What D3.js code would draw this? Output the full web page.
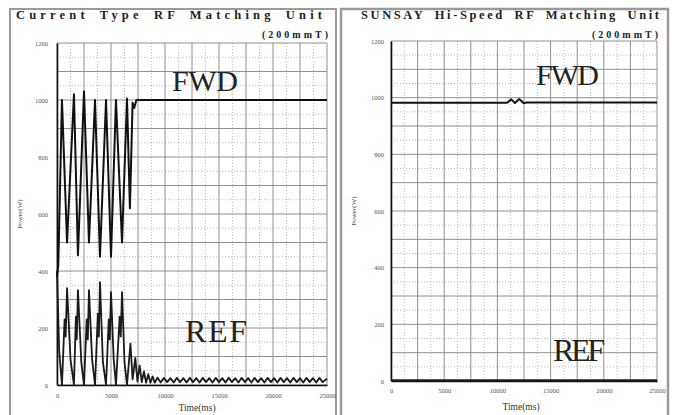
<!DOCTYPE html>
<html>
<head>
<meta charset="utf-8">
<script src="https://cdn.jsdelivr.net/npm/d3@7"></script>
<style>
  body { margin: 0; background: #fff; }
  svg { display: block; font-family: "Liberation Serif", "DejaVu Serif", serif; }
</style>
</head>
<body>
<div></div>
<script>
// ticks shared by both panels
const xTicks = [0, 5000, 10000, 15000, 20000, 25000];
const yTicks = [0, 200, 400, 600, 800, 1000, 1200];

// left panel: current type matching unit  [time ms, power W]
const fwdLeft = [
  [0, 380], [120, 420], [460, 1000], [930, 500], [1570, 1020], [1940, 455],
  [2500, 1030], [2960, 500], [3520, 1000], [3980, 450], [4540, 1000], [5000, 450],
  [5460, 1000], [6020, 500], [6480, 1005], [6750, 620], [7000, 990], [7150, 972],
  [7350, 1000], [25000, 1000]
];
const refLeft = [
  [0, 400], [200, 120], [460, 0], [700, 230], [800, 170], [930, 340], [1250, 90],
  [1570, 0], [1750, 240], [1830, 160], [1940, 333], [2250, 80], [2500, 0],
  [2750, 230], [2850, 160], [2960, 333], [3250, 90], [3520, 0], [3780, 250],
  [3870, 170], [3980, 361], [4250, 80], [4540, 0], [4790, 230], [4890, 160],
  [5000, 326], [5250, 90], [5460, 0], [5800, 240], [5900, 170], [6020, 326],
  [6250, 80], [6480, 0], [6800, 145], [7000, 20], [7250, 95], [7450, 12],
  [7650, 68], [7850, 10], [8050, 48], [8250, 8], [8450, 38], [8650, 8],
  [8850, 30], [9050, 8], [9300, 26], [9600, 9], [9900, 25], [10200, 10],
  [10500, 24], [10800, 9], [11100, 25], [11400, 10], [11700, 24], [12000, 9],
  [12300, 25], [12600, 10], [12900, 24], [13200, 9], [13500, 25], [13800, 10],
  [14100, 24], [14400, 9], [14700, 25], [15000, 10], [15300, 24], [15600, 9],
  [15900, 25], [16200, 10], [16500, 24], [16800, 9], [17100, 25], [17400, 10],
  [17700, 24], [18000, 9], [18300, 25], [18600, 10], [18900, 24], [19200, 9],
  [19500, 25], [19800, 10], [20100, 24], [20400, 9], [20700, 25], [21000, 10],
  [21300, 24], [21600, 9], [21900, 25], [22200, 10], [22500, 24], [22800, 9],
  [23100, 25], [23400, 10], [23700, 24], [24000, 9], [24300, 25], [24600, 10],
  [25000, 22]
];

// right panel: hi-speed matching unit
const fwdRight = [
  [0, 982], [10900, 982], [11300, 994], [11650, 981], [12050, 995],
  [12450, 981], [12800, 983], [25000, 983]
];
const refRight = [[0, 3], [25000, 3]];

const svg = d3.select("div").append("svg").attr("width", 676).attr("height", 415);

// outer frames
svg.append("rect").attr("x", 10).attr("y", 9).attr("width", 326).attr("height", 420)
  .attr("fill", "none").attr("stroke", "#9a9a9a").attr("stroke-width", 2);
svg.append("rect").attr("x", 341).attr("y", 9).attr("width", 327).attr("height", 420)
  .attr("fill", "none").attr("stroke", "#9a9a9a").attr("stroke-width", 2.5);

function drawPanel(p) {
  const x = d3.scaleLinear().domain([0, 25000]).range([p.left, p.right]);
  const y = d3.scaleLinear().domain([0, 1200]).range([p.bottom, p.top]);
  const g = svg.append("g");

  // minor dotted grid
  g.append("g").selectAll("line").data(d3.range(1250, 25000, 2500)).join("line")
    .attr("x1", d => x(d)).attr("x2", d => x(d)).attr("y1", p.top).attr("y2", p.bottom)
    .attr("stroke", "#aaa").attr("stroke-width", 0.8).attr("stroke-dasharray", "1,2");
  g.append("g").selectAll("line").data(d3.range(50, 1200, 100)).join("line")
    .attr("y1", d => y(d)).attr("y2", d => y(d)).attr("x1", p.left).attr("x2", p.right)
    .attr("stroke", "#aaa").attr("stroke-width", 0.8).attr("stroke-dasharray", "1,2");

  // major grid
  g.append("g").selectAll("line").data(d3.range(0, 25001, 2500)).join("line")
    .attr("x1", d => x(d)).attr("x2", d => x(d)).attr("y1", p.top).attr("y2", p.bottom)
    .attr("stroke", "#858585").attr("stroke-width", 0.9);
  g.append("g").selectAll("line").data(d3.range(0, 1201, 100)).join("line")
    .attr("y1", d => y(d)).attr("y2", d => y(d)).attr("x1", p.left).attr("x2", p.right)
    .attr("stroke", "#858585").attr("stroke-width", 0.9);

  // axes
  const fmt = d3.format("d");
  const ax = g.append("g").attr("transform", "translate(0," + p.bottom + ")")
    .call(d3.axisBottom(x).tickValues(xTicks).tickFormat(fmt).tickSize(0).tickPadding(p.xPad).tickSizeOuter(0));
  const ay = g.append("g").attr("transform", "translate(" + p.left + ",0)")
    .call(d3.axisLeft(y).tickValues(yTicks).tickFormat(fmt).tickSize(0).tickPadding(p.yPad).tickSizeOuter(0));
  [ax, ay].forEach(a => {
    a.select(".domain").attr("stroke", "#111").attr("stroke-width", 1.6);
    a.selectAll("text").attr("font-size", 6.5).attr("fill", "#555")
      .attr("font-family", "Liberation Serif");
  });

  const line = d3.line().x(d => x(d[0])).y(d => y(d[1]));
  g.append("path").datum(p.ref).attr("d", line).attr("fill", "none")
    .attr("stroke", "#1a1a1a").attr("stroke-width", 1.8).attr("stroke-linejoin", "round");
  g.append("path").datum(p.fwd).attr("d", line).attr("fill", "none")
    .attr("stroke", "#111").attr("stroke-width", 2).attr("stroke-linejoin", "round");

  // titles
  g.append("text").text(p.title).attr("x", p.titleX).attr("y", 19)
    .attr("font-size", 12.5).attr("font-weight", "bold").attr("fill", "#222")
    .attr("textLength", p.titleLen).attr("lengthAdjust", "spacing")
    .attr("word-spacing", 4);
  g.append("text").text("(200mmT)").attr("x", p.right + 1).attr("y", 38)
    .attr("text-anchor", "end").attr("font-size", 10).attr("font-weight", "bold")
    .attr("fill", "#222").attr("textLength", 66).attr("lengthAdjust", "spacing");

  g.append("text").text("Power(W)")
    .attr("transform", "translate(" + p.yLabelX + "," + (p.top + p.bottom) / 2 + ") rotate(-90)")
    .attr("text-anchor", "middle").attr("font-size", 7).attr("fill", "#444");
  g.append("text").text("Time(ms)").attr("x", p.xLabelX).attr("y", p.xLabelY)
    .attr("text-anchor", "middle").attr("font-size", 9.5).attr("fill", "#333");

  // big labels
  g.append("text").text("FWD").attr("x", p.fwdX).attr("y", p.fwdY)
    .attr("font-size", 30).attr("fill", "#222").attr("textLength", p.fwdLen);
  g.append("text").text("REF").attr("x", p.refX).attr("y", p.refY)
    .attr("font-size", 32).attr("fill", "#222").attr("textLength", p.refLen);
}

drawPanel({
  left: 57, right: 327, top: 43, bottom: 385, xPad: 8, yPad: 9,
  fwd: fwdLeft, ref: refLeft,
  title: "Current Type RF Matching Unit", titleX: 16, titleLen: 306,
  yLabelX: 22, xLabelX: 197, xLabelY: 411,
  fwdX: 172, fwdY: 91, fwdLen: 66, refX: 185, refY: 342, refLen: 62
});

drawPanel({
  left: 391, right: 657, top: 41, bottom: 381, xPad: 7, yPad: 7,
  fwd: fwdRight, ref: refRight,
  title: "SUNSAY Hi-Speed RF Matching Unit", titleX: 361, titleLen: 298,
  yLabelX: 356, xLabelX: 521, xLabelY: 410,
  fwdX: 536, fwdY: 85, fwdLen: 63, refX: 553, refY: 361, refLen: 52
});
</script>
</body>
</html>
